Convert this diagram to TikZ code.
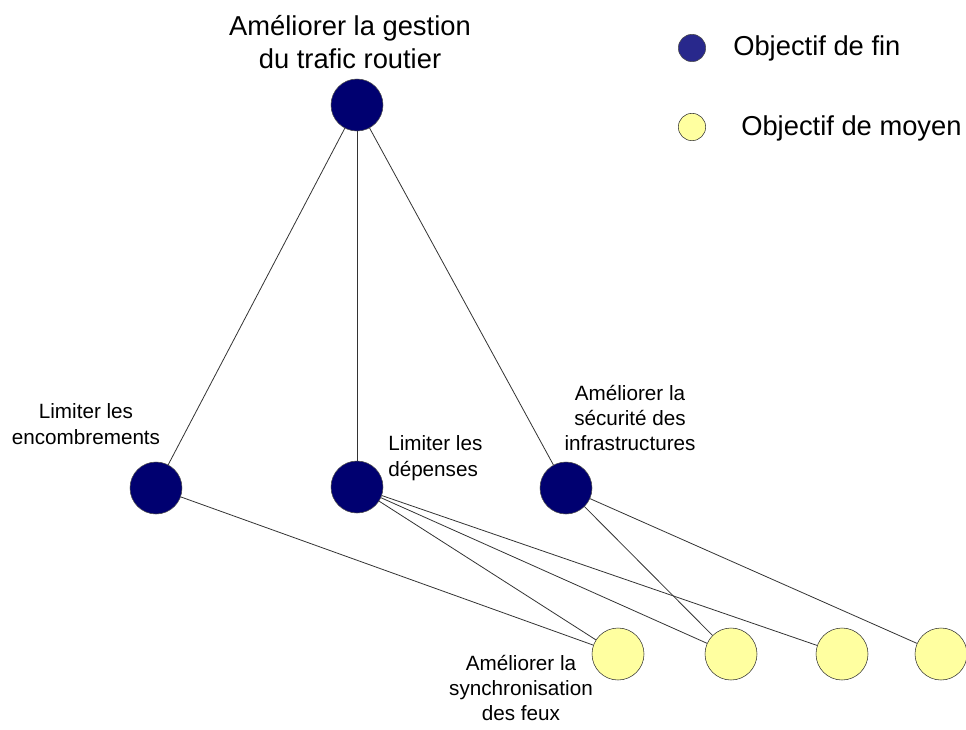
\documentclass[tikz,border=0pt]{standalone}
\usepackage{fontspec}
\setmainfont{Liberation Sans}
\definecolor{finblue}{RGB}{0,0,112}
\definecolor{legblue}{RGB}{40,40,140}
\definecolor{moyyellow}{RGB}{255,255,160}
\tikzset{
  fin/.style={circle,draw=black!70,fill=finblue,minimum size=39pt,inner sep=0pt},
  moyen/.style={circle,draw=black!80,fill=moyyellow,minimum size=39pt,inner sep=0pt},
  legfin/.style={fin,fill=legblue,minimum size=20.5pt},
  legmoyen/.style={moyen,minimum size=20.5pt},
  lien/.style={draw=black!80,line width=0.6pt},
  etiq/.style={font=\fontsize{15.5}{19}\selectfont,align=center,inner sep=0pt}
}
\begin{document}
\begin{tikzpicture}[x=0.75pt,y=-0.75pt]
    \useasboundingbox (0,0) rectangle (966,729);
    % objectifs de fin
    \node[fin] (gestion) at (357,105) {};
    \node[fin] (encomb) at (156,488) {};
    \node[fin] (depenses) at (357,487) {};
    \node[fin] (securite) at (566,488) {};
    % objectifs de moyen
    \node[moyen] (synchro) at (618,654) {};
    \node[moyen] (moyB) at (731,654) {};
    \node[moyen] (moyC) at (842,654) {};
    \node[moyen] (moyD) at (941,654) {};
    % liens
    \draw[lien] (gestion) -- (encomb);
    \draw[lien] (gestion) -- (depenses);
    \draw[lien] (gestion) -- (securite);
    \draw[lien] (encomb) -- (synchro);
    \draw[lien] (depenses) -- (synchro);
    \draw[lien] (depenses) -- (moyB);
    \draw[lien] (depenses) -- (moyC);
    \draw[lien] (securite) -- (moyB);
    \draw[lien] (securite) -- (moyD);
    % textes
    \node[align=center,inner sep=0pt,font=\fontsize{20.5}{25}\selectfont] (tgestion) at (350,42)
      {Améliorer la gestion\\du trafic routier};
    \node[etiq] (tencomb) at (86,424) {Limiter les\\encombrements};
    \node[etiq,align=left,anchor=west] (tdepenses) at (388,458) {Limiter les\\dépenses};
    \node[etiq] (tsecurite) at (630,418) {Améliorer la\\sécurité des\\infrastructures};
    \node[etiq] (tsynchro) at (521,688) {Améliorer la\\synchronisation\\des feux};
    % legende
    \node[legfin] (lfin) at (692,48) {};
    \node[legmoyen] (lmoyen) at (692,127) {};
    \node[anchor=west,inner sep=0pt,font=\fontsize{20.5}{25}\selectfont] (tfin) at (733,48) {Objectif de fin};
    \node[anchor=west,inner sep=0pt,font=\fontsize{20.5}{25}\selectfont] (tmoyen) at (741,128) {Objectif de moyen};
\end{tikzpicture}
\end{document}
